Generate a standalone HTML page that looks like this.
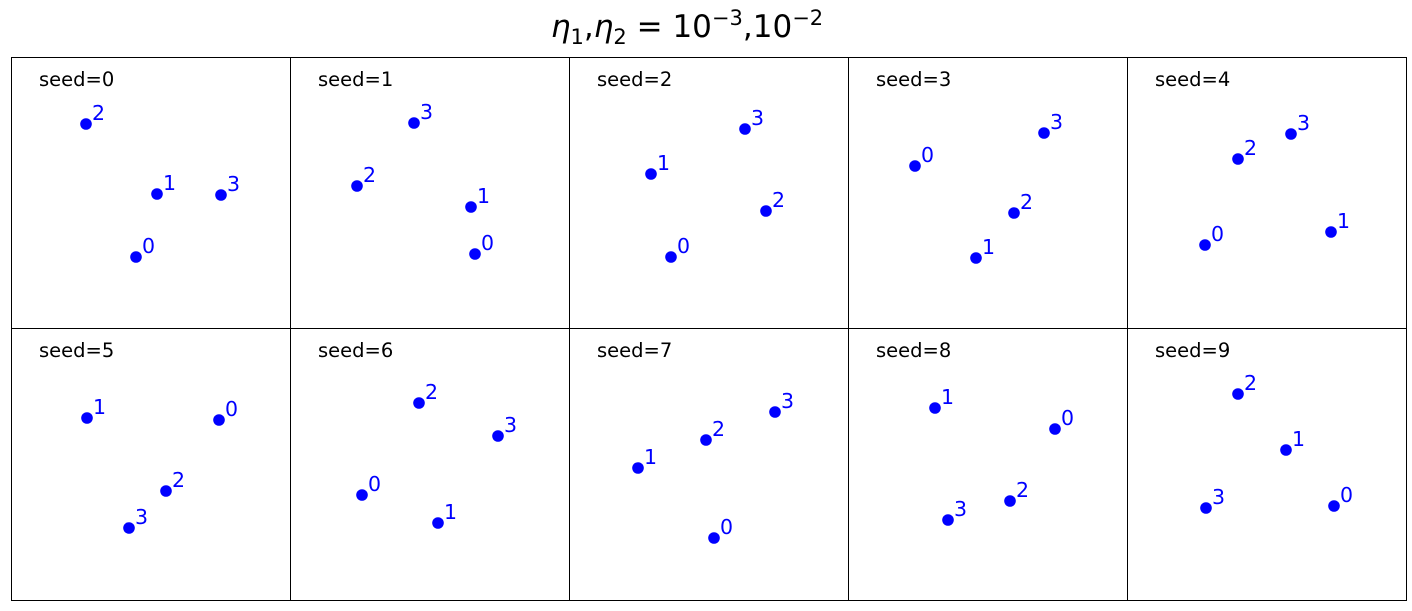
<!DOCTYPE html>
<html><head><meta charset="utf-8"><style>
html,body{margin:0;padding:0;background:#fff;width:1412px;height:611px;overflow:hidden}
svg text{font-family:"DejaVu Sans","Liberation Sans",sans-serif}
</style></head><body>
<svg width="1412" height="611" xmlns="http://www.w3.org/2000/svg">
<text x="687" y="37" text-anchor="middle" font-size="31" fill="#000"><tspan font-style="italic">η</tspan><tspan font-size="21" dy="7">1</tspan><tspan dy="-7">,</tspan><tspan font-style="italic">η</tspan><tspan font-size="21" dy="7">2</tspan><tspan dy="-7"> = 10</tspan><tspan font-size="21" dy="-12">−3</tspan><tspan dy="12">,10</tspan><tspan font-size="21" dy="-12">−2</tspan></text>
<g stroke="#000" stroke-width="1" fill="none">
<rect x="11.5" y="57.5" width="1395" height="543"/>
<line x1="290.5" y1="57" x2="290.5" y2="600"/>
<line x1="569.5" y1="57" x2="569.5" y2="600"/>
<line x1="848.5" y1="57" x2="848.5" y2="600"/>
<line x1="1127.5" y1="57" x2="1127.5" y2="600"/>
<line x1="11" y1="328.5" x2="1406" y2="328.5"/>
</g>
<g font-size="19.5" fill="#000">
<text x="39" y="86">seed=0</text><text x="318" y="86">seed=1</text><text x="597" y="86">seed=2</text><text x="876" y="86">seed=3</text><text x="1155" y="86">seed=4</text>
<text x="39" y="357">seed=5</text><text x="318" y="357">seed=6</text><text x="597" y="357">seed=7</text><text x="876" y="357">seed=8</text><text x="1155" y="357">seed=9</text>
</g>
<g fill="#0000ff" font-size="20.5">
<circle cx="86" cy="124" r="5.8"/><text x="92" y="120">2</text>
<circle cx="157" cy="194" r="5.8"/><text x="163" y="190">1</text>
<circle cx="221" cy="195" r="5.8"/><text x="227" y="191">3</text>
<circle cx="136" cy="257" r="5.8"/><text x="142" y="253">0</text>
<circle cx="414" cy="123" r="5.8"/><text x="420" y="119">3</text>
<circle cx="357" cy="186" r="5.8"/><text x="363" y="182">2</text>
<circle cx="471" cy="207" r="5.8"/><text x="477" y="203">1</text>
<circle cx="475" cy="254" r="5.8"/><text x="481" y="250">0</text>
<circle cx="745" cy="129" r="5.8"/><text x="751" y="125">3</text>
<circle cx="651" cy="174" r="5.8"/><text x="657" y="170">1</text>
<circle cx="766" cy="211" r="5.8"/><text x="772" y="207">2</text>
<circle cx="671" cy="257" r="5.8"/><text x="677" y="253">0</text>
<circle cx="1044" cy="133" r="5.8"/><text x="1050" y="129">3</text>
<circle cx="915" cy="166" r="5.8"/><text x="921" y="162">0</text>
<circle cx="1014" cy="213" r="5.8"/><text x="1020" y="209">2</text>
<circle cx="976" cy="258" r="5.8"/><text x="982" y="254">1</text>
<circle cx="1291" cy="134" r="5.8"/><text x="1297" y="130">3</text>
<circle cx="1238" cy="159" r="5.8"/><text x="1244" y="155">2</text>
<circle cx="1331" cy="232" r="5.8"/><text x="1337" y="228">1</text>
<circle cx="1205" cy="245" r="5.8"/><text x="1211" y="241">0</text>
<circle cx="87" cy="418" r="5.8"/><text x="93" y="414">1</text>
<circle cx="219" cy="420" r="5.8"/><text x="225" y="416">0</text>
<circle cx="166" cy="491" r="5.8"/><text x="172" y="487">2</text>
<circle cx="129" cy="528" r="5.8"/><text x="135" y="524">3</text>
<circle cx="419" cy="403" r="5.8"/><text x="425" y="399">2</text>
<circle cx="498" cy="436" r="5.8"/><text x="504" y="432">3</text>
<circle cx="362" cy="495" r="5.8"/><text x="368" y="491">0</text>
<circle cx="438" cy="523" r="5.8"/><text x="444" y="519">1</text>
<circle cx="775" cy="412" r="5.8"/><text x="781" y="408">3</text>
<circle cx="706" cy="440" r="5.8"/><text x="712" y="436">2</text>
<circle cx="638" cy="468" r="5.8"/><text x="644" y="464">1</text>
<circle cx="714" cy="538" r="5.8"/><text x="720" y="534">0</text>
<circle cx="935" cy="408" r="5.8"/><text x="941" y="404">1</text>
<circle cx="1055" cy="429" r="5.8"/><text x="1061" y="425">0</text>
<circle cx="1010" cy="501" r="5.8"/><text x="1016" y="497">2</text>
<circle cx="948" cy="520" r="5.8"/><text x="954" y="516">3</text>
<circle cx="1238" cy="394" r="5.8"/><text x="1244" y="390">2</text>
<circle cx="1286" cy="450" r="5.8"/><text x="1292" y="446">1</text>
<circle cx="1206" cy="508" r="5.8"/><text x="1212" y="504">3</text>
<circle cx="1334" cy="506" r="5.8"/><text x="1340" y="502">0</text>
</g>
</svg>
</body></html>
